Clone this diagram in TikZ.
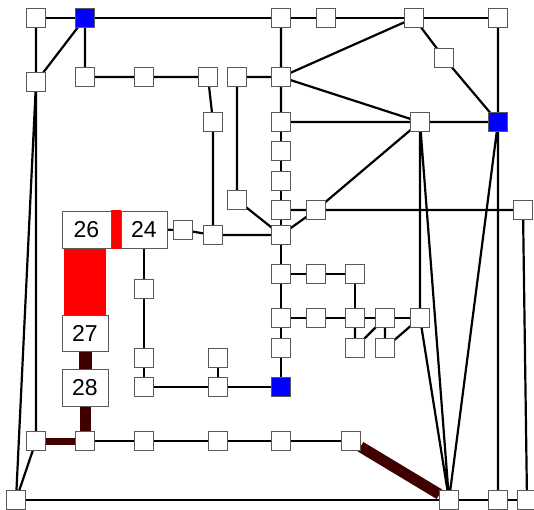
\documentclass[tikz,border=0pt]{standalone}
\usepackage{fontspec}
\setmainfont{Liberation Sans}
\usetikzlibrary{backgrounds}
\definecolor{darkred}{RGB}{64,0,0}
\begin{document}
\begin{tikzpicture}[x=1pt,y=-1pt,
  sq/.style={draw=black!65,line width=0.9pt,fill=white,minimum size=19pt,inner sep=0pt,outer sep=0pt},
  bsq/.style={sq,fill=blue},
  lbl/.style={draw=black!65,line width=0.9pt,fill=white,minimum width=46pt,minimum height=37pt,inner sep=0pt,outer sep=0pt,font=\fontsize{23}{25}\selectfont},
  ed/.style={line width=2.2pt,black},
  thk/.style={line width=#1,darkred},
  rd/.style={line width=#1,red}]
\useasboundingbox (0,0) rectangle (534,509);
% nodes
\node[sq] (a1) at (36,18) {};
\node[bsq] (b1) at (85,18) {};
\node[sq] (t3) at (281,18) {};
\node[sq] (t4) at (326,18) {};
\node[sq] (t5) at (414,18) {};
\node[sq] (t6) at (498,18) {};
\node[sq] (c1) at (36,82) {};
\node[sq] (d1) at (85,77) {};
\node[sq] (e1) at (144,77) {};
\node[sq] (f1) at (208,77) {};
\node[sq] (g1) at (237,77) {};
\node[sq] (m1) at (281,77) {};
\node[sq] (p1) at (444,58) {};
\node[sq] (h1) at (213,122) {};
\node[sq] (m2) at (281,122) {};
\node[sq] (r1) at (420,122) {};
\node[bsq] (bl2) at (498,122) {};
\node[sq] (m3) at (281,151) {};
\node[sq] (m4) at (281,181) {};
\node[sq] (i1) at (237,200) {};
\node[sq] (m5) at (281,210) {};
\node[sq] (s1) at (316,210) {};
\node[sq] (s2) at (523,210) {};
\node[sq] (j1) at (183,230) {};
\node[sq] (k1) at (213,235) {};
\node[sq] (m6) at (281,235) {};
\node[lbl,minimum width=49pt] (n26) at (86.5,229.5) {26};
\node[lbl] (n24) at (144,229.5) {24};
\node[sq] (u1) at (144,289) {};
\node[sq] (m7) at (281,274) {};
\node[sq] (v1) at (316,274) {};
\node[sq] (v2) at (355,274) {};
\node[lbl,minimum height=36pt] (n27) at (85,333) {27};
\node[sq] (m8) at (281,318) {};
\node[sq] (w1) at (316,318) {};
\node[sq] (w2) at (355,318) {};
\node[sq] (w3) at (385,318) {};
\node[sq] (w4) at (420,318) {};
\node[sq] (m9) at (281,348) {};
\node[sq] (x1) at (355,348) {};
\node[sq] (x2) at (385,348) {};
\node[sq] (u2) at (144,358) {};
\node[sq] (u3) at (218,358) {};
\node[lbl] (n28) at (85,387.5) {28};
\node[sq] (u4) at (144,387) {};
\node[sq] (u5) at (218,387) {};
\node[bsq] (bl3) at (281,387) {};
\node[sq] (y1) at (36,441) {};
\node[sq] (y2) at (85,441) {};
\node[sq] (y3) at (144,441) {};
\node[sq] (y4) at (218,441) {};
\node[sq] (y5) at (281,441) {};
\node[sq] (y6) at (351,441) {};
\node[sq] (z1) at (16,500) {};
\node[sq] (z2) at (449,500) {};
\node[sq] (z3) at (498,500) {};
\node[sq] (z4) at (527,500) {};
\begin{pgfonlayer}{background}
\draw[ed] (a1)--(b1) (b1)--(t3) (t3)--(t4) (t4)--(t5) (t5)--(t6);
\draw[ed] (a1)--(c1) (b1)--(c1) (b1)--(d1);
\draw[ed] (d1)--(e1) (e1)--(f1) (f1)--(h1) (h1)--(k1);
\draw[ed] (g1)--(m1) (g1)--(i1) (i1)--(m6) (k1)--(m6) (j1)--(k1) (n24)--(j1);
\draw[ed] (t3)--(m1) (t5)--(m1) (t5)--(p1) (p1)--(bl2) (t6)--(bl2);
\draw[ed] (m1)--(r1) (m1)--(m2) (m2)--(r1) (r1)--(bl2);
\draw[ed] (m2)--(m3) (m3)--(m4) (m4)--(m5) (m5)--(m6);
\draw[ed] (m5)--(s1) (s1)--(s2) (s1)--(r1) (s1)--(m6);
\draw[ed] (m6)--(m7) (m7)--(m8) (m8)--(m9) (m9)--(bl3);
\draw[ed] (m7)--(v1) (v1)--(v2) (v2)--(w2);
\draw[ed] (m8)--(w1) (w1)--(w2) (w2)--(w3) (w3)--(w4);
\draw[ed] (w2)--(x1) (x1)--(w3) (w3)--(x2) (x2)--(w4);
\draw[ed] (r1)--(w4) (r1)--(z2) (w4)--(z2) (bl2)--(z2) (bl2)--(z3);
\draw[ed] (s2)--(z4);
\draw[ed] (z1)--(z2) (z2)--(z3) (z3)--(z4);
\draw[ed] (c1)--(z1) (c1)--(y1) (y1)--(z1);
\draw[ed] (y2)--(y3) (y3)--(y4) (y4)--(y5) (y5)--(y6);
\draw[ed] (n24)--(u1) (u1)--(u2) (u2)--(u4) (u4)--(u5) (u5)--(bl3) (u3)--(u5);
\draw[rd=39pt] (n26)--(n24);
\draw[rd=42pt] (n26.south -| n27) -- (n27);
\draw[thk=13pt] (n27)--(n28);
\draw[thk=11pt] (n28)--(y2);
\draw[thk=7pt] (y1)--(y2);
\draw[thk=11pt] (y6)--(z2);
\end{pgfonlayer}
\end{tikzpicture}
\end{document}
